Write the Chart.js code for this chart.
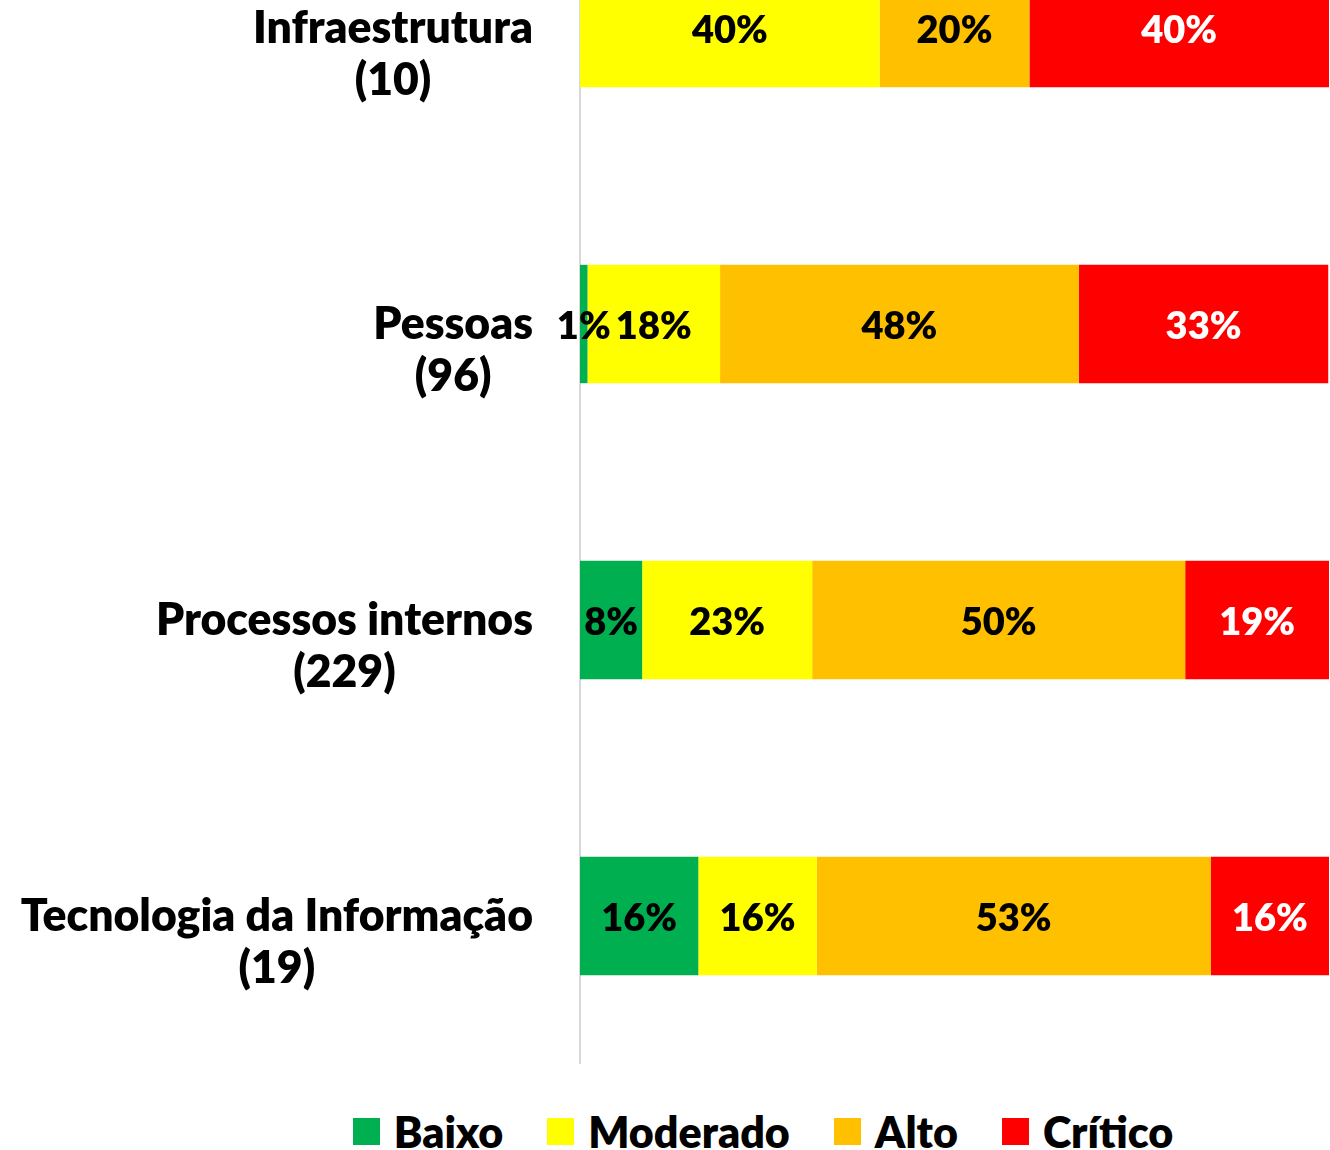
<!DOCTYPE html>
<html>
<head>
<meta charset="utf-8">
<script src="https://cdn.jsdelivr.net/npm/chart.js@4/dist/chart.umd.min.js"></script>
<style>
  html, body { margin: 0; padding: 0; background: #ffffff; }
  #wrap { position: relative; width: 1330px; height: 1150px; overflow: hidden; background: #ffffff; }
  #cvbox { position: absolute; left: 0; top: -120px; width: 1330px; height: 1184px; }
  #legend { position: absolute; left: 0; width: 1526px; top: 1104px; height: 54px;
            display: flex; justify-content: center; align-items: center;
            font-family: Lato, sans-serif; font-weight: 800; font-size: 43px; color: #000; }
  .item { display: flex; align-items: center; margin: 0 22px; white-space: nowrap; }
  .sw { width: 27px; height: 27px; margin-right: 14px; flex: none; }
</style>
</head>
<body>
<div id="wrap">
  <div id="cvbox"><canvas id="chart"></canvas></div>
  <div id="legend"></div>
</div>
<script>
// ---- data ----
const categories = [
  ["Infraestrutura", "(10)"],
  ["Pessoas", "(96)"],
  ["Processos internos", "(229)"],
  ["Tecnologia da Informação", "(19)"]
];
const seriesNames = ["Baixo", "Moderado", "Alto", "Crítico"];
const baixo    = [0,    1.0,  8.3, 15.8];
const moderado = [40,  17.7, 22.7, 15.8];
const alto     = [20,  47.9, 49.8, 52.6];
const critico  = [40,  33.3, 19.2, 15.8];

// ---- styles ----
const colors = ["#00B050", "#FFFF00", "#FFC000", "#FF0000"];
const labelColors = ["#000000", "#000000", "#000000", "#FFFFFF"];
const FONT = "Lato, sans-serif";
const WEIGHT = 800;
const AXIS_SIZE = 44.5;
const DL_SIZE = 38;

const seriesValues = [baixo, moderado, alto, critico];

const valueLabels = {
  id: 'valueLabels',
  afterDatasetsDraw(chart) {
    const ctx = chart.ctx;
    ctx.save();
    ctx.font = `${WEIGHT} ${DL_SIZE}px ${FONT}`;
    ctx.textAlign = 'center';
    ctx.textBaseline = 'middle';
    chart.data.datasets.forEach((ds, di) => {
      const meta = chart.getDatasetMeta(di);
      meta.data.forEach((bar, i) => {
        const v = ds.data[i];
        if (!v) return;
        const p = bar.getProps(['x', 'y', 'base'], true);
        ctx.fillStyle = labelColors[di];
        ctx.fillText(Math.round(v) + '%', (p.x + p.base) / 2, p.y + 3);
      });
    });
    ctx.restore();
  }
};

const catLabels = {
  id: 'catLabels',
  afterDraw(chart) {
    const ctx = chart.ctx;
    const ys = chart.scales.y;
    const right = ys.right - 47;
    ctx.save();
    ctx.font = `${WEIGHT} ${AXIS_SIZE}px ${FONT}`;
    ctx.fillStyle = '#000';
    ctx.textAlign = 'center';
    ctx.textBaseline = 'middle';
    chart.data.labels.forEach((lines, i) => {
      const y = ys.getPixelForTick(i);
      const w = Math.max(...lines.map(l => ctx.measureText(l).width));
      const cx = right - w / 2;
      lines.forEach((l, k) => ctx.fillText(l, cx, y + 1 + k * 52));
    });
    ctx.restore();
  }
};

new Chart(document.getElementById('chart'), {
  type: 'bar',
  data: {
    labels: categories,
    datasets: seriesNames.map((n, i) => ({
      label: n,
      data: seriesValues[i],
      backgroundColor: colors[i],
      borderWidth: 0,
      categoryPercentage: 1,
      barPercentage: 0.4
    }))
  },
  options: {
    indexAxis: 'y',
    responsive: true,
    maintainAspectRatio: false,
    animation: false,
    layout: { padding: { left: 0, right: 1, top: 0, bottom: 0 } },
    plugins: { legend: { display: false }, tooltip: { enabled: false } },
    scales: {
      x: { stacked: true, min: 0, max: 100, display: false },
      y: {
        stacked: true,
        grid: { display: false },
        border: { display: true, color: '#D9D9D9', width: 2 },
        ticks: { display: false },
        afterFit(s) { s.width = 580; }
      }
    }
  },
  plugins: [valueLabels, catLabels]
});

// HTML legend
const lg = document.getElementById('legend');
seriesNames.forEach((n, i) => {
  const it = document.createElement('div');
  it.className = 'item';
  const sw = document.createElement('span');
  sw.className = 'sw';
  sw.style.background = colors[i];
  const tx = document.createElement('span');
  tx.textContent = n;
  it.appendChild(sw); it.appendChild(tx);
  lg.appendChild(it);
});
</script>
</body>
</html>
